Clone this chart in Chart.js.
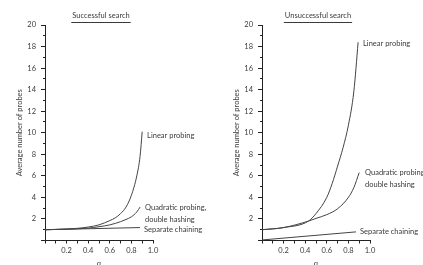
<!DOCTYPE html>
<html>
<head>
<meta charset="utf-8">
<script src="https://cdn.jsdelivr.net/npm/chart.js@4/dist/chart.umd.min.js"></script>
<style>
  html, body { margin: 0; padding: 0; background: #fff; overflow: hidden; }
  #wrap { position: relative; width: 423px; height: 265px; overflow: hidden; }
  canvas { position: absolute; top: 0; }
  #succ { left: 0; }
  #unsucc { left: 211px; }
</style>
</head>
<body>
<div id="wrap">
  <canvas id="succ" width="211" height="280"></canvas>
  <canvas id="unsucc" width="212" height="280"></canvas>
</div>
<script>
// tick labels
const yTickLabels = [2, 4, 6, 8, 10, 12, 14, 16, 18, 20];
const xTickLabels = ["0.2", "0.4", "0.6", "0.8", "1.0"];

// successful search
const linearSuccX = [0, 0.1, 0.2, 0.3, 0.4, 0.5, 0.6, 0.65, 0.7, 0.75, 0.8, 0.85, 0.88, 0.9];
const linearSuccY = [1.0, 1.03, 1.07, 1.13, 1.25, 1.45, 1.85, 2.1, 2.5, 3.1, 4.2, 6.0, 7.8, 10.1];
const quadSuccX = [0, 0.2, 0.4, 0.5, 0.6, 0.7, 0.75, 0.8, 0.85, 0.88];
const quadSuccY = [1.0, 1.05, 1.15, 1.28, 1.45, 1.75, 1.95, 2.2, 2.65, 3.1];
const sepSuccX = [0, 0.88];
const sepSuccY = [1.0, 1.2];

// unsuccessful search
const linearUnsX = [0, 0.2, 0.43, 0.5, 0.6, 0.65, 0.7, 0.75, 0.8, 0.85, 0.89];
const linearUnsY = [1.0, 1.2, 1.8, 2.5, 4.0, 5.3, 6.9, 8.6, 10.7, 13.8, 18.4];
const quadUnsX = [0, 0.2, 0.43, 0.5, 0.6, 0.7, 0.8, 0.85, 0.9];
const quadUnsY = [1.0, 1.2, 1.8, 2.05, 2.4, 2.95, 4.0, 4.9, 6.3];
const sepUnsX = [0, 0.87];
const sepUnsY = [0.05, 0.8];

const ink = "#3a3a3a";
const fontFamily = 'Lato, "Open Sans", sans-serif';
const fontSize = 7.5;

function pts(xs, ys) {
  return xs.map((x, i) => ({ x, y: ys[i] }));
}

function curve(xs, ys) {
  return {
    data: pts(xs, ys),
    borderColor: "#444",
    borderWidth: 1,
    pointRadius: 0,
    fill: false,
    cubicInterpolationMode: "monotone",
  };
}

// curve labels, positioned in data units
const succLabels = [
  { lines: ["Linear probing"], x: 0.945, y: 9.7 },
  { lines: ["Quadratic probing,", "double hashing"], x: 0.926, y: 3.1 },
  { lines: ["Separate chaining"], x: 0.917, y: 0.98 },
];
const unsLabels = [
  { lines: ["Linear probing"], x: 0.935, y: 18.3 },
  { lines: ["Quadratic probing", "double hashing"], x: 0.954, y: 6.28 },
  { lines: ["Separate chaining"], x: 0.907, y: 0.79 },
];

const annotate = {
  id: "annotate",
  afterDraw(chart, args, opts) {
    const { ctx, chartArea, scales } = chart;
    ctx.save();
    ctx.fillStyle = ink;
    ctx.textBaseline = "middle";

    // underlined panel title
    ctx.font = `${fontSize}px ${fontFamily}`;
    ctx.textAlign = "center";
    const cx = (chartArea.left + chartArea.right) / 2 + opts.titleDx;
    ctx.fillText(opts.title, cx, 16);
    const w = ctx.measureText(opts.title).width;
    ctx.strokeStyle = ink;
    ctx.lineWidth = 1;
    ctx.beginPath();
    ctx.moveTo(cx - w / 2 - 1, 22.5);
    ctx.lineTo(cx + w / 2 + 1, 22.5);
    ctx.stroke();

    // curve labels
    ctx.textAlign = "left";
    for (const lab of opts.labels) {
      const px = scales.x.getPixelForValue(lab.x);
      const py = scales.y.getPixelForValue(lab.y);
      lab.lines.forEach((line, i) => ctx.fillText(line, px, py + i * 12));
    }
    ctx.restore();
  },
};

function makeChart(id, datasets, title, labels, yWidth, padRight, titlePad, titleDx) {
  return new Chart(document.getElementById(id), {
    type: "line",
    data: { datasets },
    plugins: [annotate],
    options: {
      responsive: false,
      animation: false,
      layout: { padding: { top: 25, right: padRight, left: 0, bottom: 0 } },
      plugins: {
        legend: { display: false },
        tooltip: { enabled: false },
        annotate: { title, labels, titleDx },
      },
      scales: {
        x: {
          type: "linear",
          min: 0,
          max: 1,
          border: { color: "#222", width: 1 },
          grid: { drawOnChartArea: false, tickLength: 3, color: "#222" },
          ticks: {
            stepSize: 0.1,
            autoSkip: false,
            maxRotation: 0,
            padding: 3,
            color: ink,
            font: { family: fontFamily, size: fontSize },
            callback: (v) => {
              const s = Number(v).toFixed(1);
              return xTickLabels.includes(s) ? s : "";
            },
          },
          title: {
            display: true,
            text: "α",
            color: ink,
            font: { family: fontFamily, size: fontSize },
            padding: { top: 0, bottom: 12 },
          },
          afterFit: (s) => { s.height = 39.5; },
        },
        y: {
          min: 0,
          max: 20,
          border: { color: "#222", width: 1 },
          grid: {
            drawOnChartArea: false,
            tickLength: 4,
            color: "#222",
            tickBorderDash: (c) => (c.tick && c.tick.value % 2 ? [0, 2, 2, 0] : []),
          },
          ticks: {
            stepSize: 1,
            autoSkip: false,
            padding: 5,
            color: ink,
            font: { family: fontFamily, size: fontSize },
            callback: (v) => (yTickLabels.includes(v) ? String(v) : ""),
          },
          title: {
            display: true,
            text: "Average number of probes",
            color: ink,
            font: { family: fontFamily, size: fontSize },
            padding: { top: titlePad, bottom: 0 },
          },
          afterFit: (s) => { s.width = yWidth; },
        },
      },
    },
  });
}

makeChart(
  "succ",
  [curve(linearSuccX, linearSuccY), curve(quadSuccX, quadSuccY), curve(sepSuccX, sepSuccY)],
  "Successful search",
  succLabels,
  45, 58, 15, 2
);

makeChart(
  "unsucc",
  [curve(linearUnsX, linearUnsY), curve(quadUnsX, quadUnsY), curve(sepUnsX, sepUnsY)],
  "Unsuccessful search",
  unsLabels,
  51, 53, 21, 2
);
</script>
</body>
</html>
